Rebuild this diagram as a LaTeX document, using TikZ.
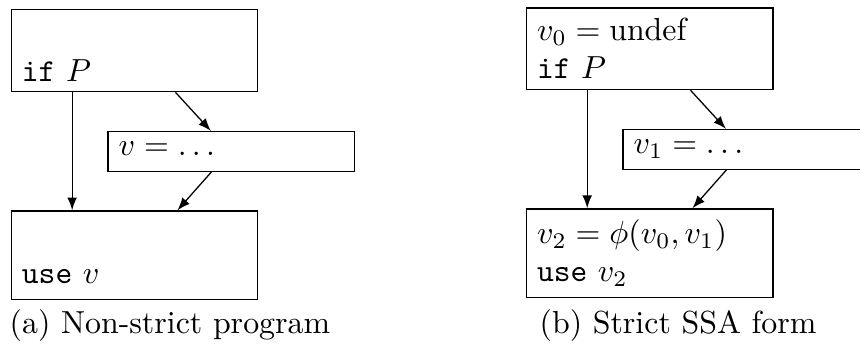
\documentclass[tikz,border=0pt]{standalone}
\usepackage{tikz}
\usetikzlibrary{arrows, positioning, calc}
\tikzstyle{block} = [rectangle, draw=black, text width=2.48cm, align=left, anchor=north west]
\tikzstyle{arrow} = [thin,->,>=latex]
\tikzstyle{caption} = [text centered]

\begin{document}
\begin{tikzpicture}[node distance=0.42cm]
\useasboundingbox (0,0) rectangle (9.471,-3.778);

% (a) non-strict program
\node (ifa) [block] at (0.118,-0.099) {\vphantom{$v_0=$undef}\\\texttt{if} $P$};
\node (defa) [block, below right=0.425cm and 1.064cm of ifa.south west] {$v = \ldots$\vphantom{$v_1$}};
\node (usea) [block, below=0.422cm of defa.south west, anchor=north west, xshift=-1.064cm] {\vphantom{$v_2=\phi(v_0,v_1)$}\\\texttt{use} $v$\vphantom{$v_2$}};
\node (capa) [caption] at (1.872,-3.58) {(a) Non-strict program};

\draw [arrow] ($(ifa.south west)!0.248!(ifa.south east)$) -- ($(usea.north west)!0.248!(usea.north east)$);
\draw [arrow] ($(ifa.south west)!0.665!(ifa.south east)$) -- ($(defa.north west)!0.418!(defa.north east)$);
\draw [arrow] ($(defa.south west)!0.42!(defa.south east)$) -- ($(usea.north west)!0.673!(usea.north east)$);

% (b) strict SSA form
\node (ifb) [block] at (5.790,-0.080) {$v_0 = \mathrm{undef}$\\\texttt{if} $P$};
\node (defb) [block, below right=0.425cm and 1.064cm of ifb.south west] {$v_1 = \ldots$};
\node (useb) [block, below=0.422cm of defb.south west, anchor=north west, xshift=-1.064cm] {$v_2 = \phi(v_0, v_1)$\\\texttt{use} $v_2$};
\node (capb) [caption] at (7.467,-3.58) {(b) Strict SSA form};

\draw [arrow] ($(ifb.south west)!0.248!(ifb.south east)$) -- ($(useb.north west)!0.248!(useb.north east)$);
\draw [arrow] ($(ifb.south west)!0.665!(ifb.south east)$) -- ($(defb.north west)!0.418!(defb.north east)$);
\draw [arrow] ($(defb.south west)!0.42!(defb.south east)$) -- ($(useb.north west)!0.673!(useb.north east)$);

\end{tikzpicture}
\end{document}
